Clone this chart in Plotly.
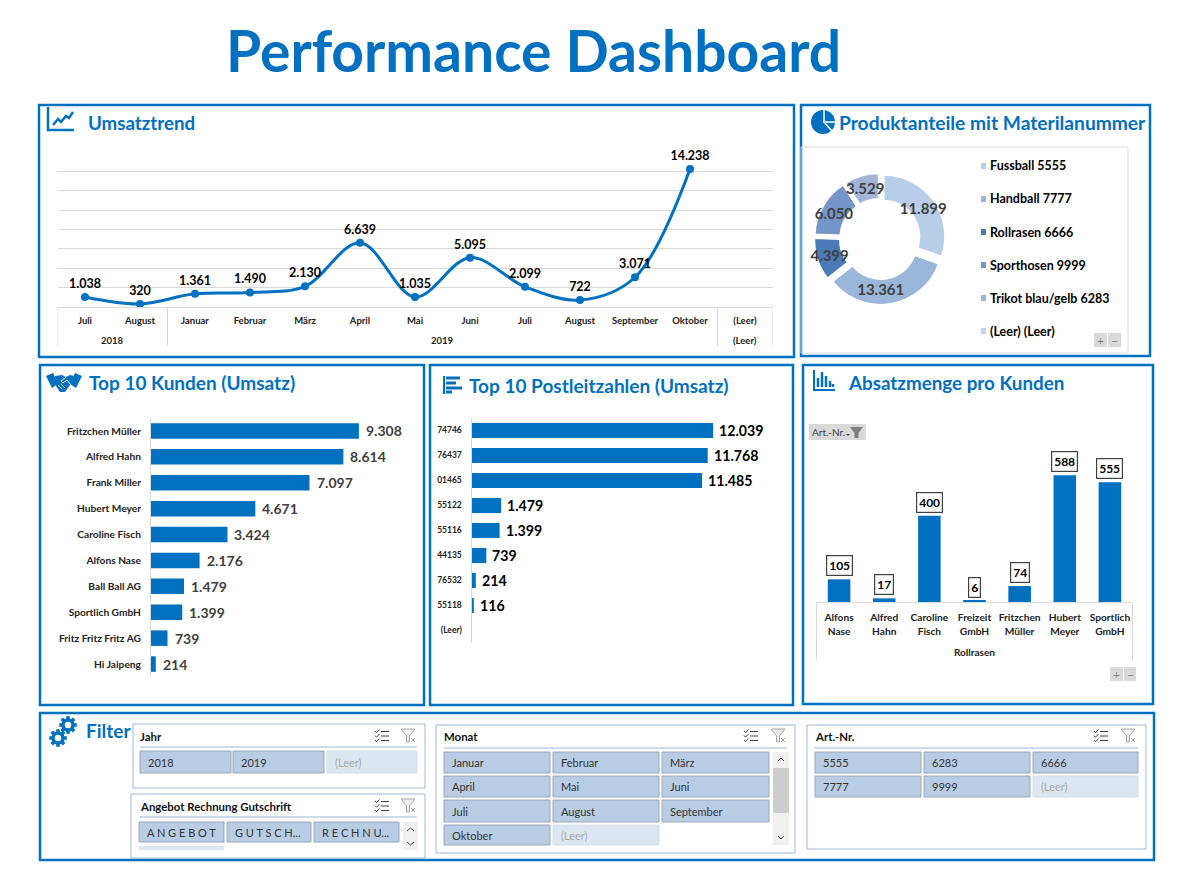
import math
import plotly.graph_objects as go

BLUE = "#0070C0"
FONT = "Lato"

# ---------- data ----------
trend_years = ["2018", "2018", "2019", "2019", "2019", "2019", "2019", "2019", "2019", "2019", "2019", "2019", "(Leer)"]
trend_months = ["Juli", "August", "Januar", "Februar", "März", "April", "Mai", "Juni", "Juli", "August", "September", "Oktober", "(Leer)"]
trend_values = [1038, 320, 1361, 1490, 2130, 6639, 1035, 5095, 2099, 722, 3071, 14238, None]

product_labels = ["Fussball 5555", "Handball 7777", "Rollrasen 6666", "Sporthosen 9999", "Trikot blau/gelb 6283", "(Leer) (Leer)"]
product_values = [11899, 13361, 4399, 6050, 3529, 0]
product_colors = ["#B8CDE7", "#9AB6DA", "#4A7AB8", "#7495C8", "#A0B5D8", "#C5D3E8"]

customer_names = ["Fritzchen Müller", "Alfred Hahn", "Frank Miller", "Hubert Meyer", "Caroline Fisch",
                  "Alfons Nase", "Ball Ball AG", "Sportlich GmbH", "Fritz Fritz Fritz AG", "Hi Jaipeng"]
customer_values = [9308, 8614, 7097, 4671, 3424, 2176, 1479, 1399, 739, 214]

postcodes = ["74746", "76437", "01465", "55122", "55116", "44135", "76532", "55118", "(Leer)"]
postcode_values = [12039, 11768, 11485, 1479, 1399, 739, 214, 116, None]

qty_customers = ["Alfons<br>Nase", "Alfred<br>Hahn", "Caroline<br>Fisch", "Freizeit<br>GmbH", "Fritzchen<br>Müller", "Hubert<br>Meyer", "Sportlich<br>GmbH"]
qty_group = "Rollrasen"
qty_values = [105, 17, 400, 6, 74, 588, 555]

slicer_jahr = ["2018", "2019", "(Leer)"]
slicer_angebot = ["A N G E B O T", "G U T S C H...", "R E C H N U..."]
slicer_monat = ["Januar", "Februar", "März", "April", "Mai", "Juni", "Juli", "August", "September", "Oktober", "(Leer)"]
slicer_art = ["5555", "6283", "6666", "7777", "9999", "(Leer)"]


def de(v):
    return f"{v:,}".replace(",", ".")


W, H = 1200, 881
shapes, annos = [], []


def X(p):
    return p / W


def Y(p):
    return 1 - p / H


def rect(x0, y0, x1, y1, fill="rgba(0,0,0,0)", line=None, lw=1, layer="below"):
    shapes.append(dict(type="rect", xref="paper", yref="paper", x0=X(x0), x1=X(x1), y0=Y(y0), y1=Y(y1),
                       fillcolor=fill, line=dict(color=line or "rgba(0,0,0,0)", width=lw if line else 0), layer=layer))


def seg(x0, y0, x1, y1, color="#D9D9D9", lw=1, layer="below"):
    shapes.append(dict(type="line", xref="paper", yref="paper", x0=X(x0), x1=X(x1), y0=Y(y0), y1=Y(y1),
                       line=dict(color=color, width=lw), layer=layer))


def circle(cx, cy, r, fill=BLUE, line=None, lw=0, layer="above"):
    shapes.append(dict(type="circle", xref="paper", yref="paper", x0=X(cx - r), x1=X(cx + r), y0=Y(cy - r), y1=Y(cy + r),
                       fillcolor=fill, line=dict(color=line or "rgba(0,0,0,0)", width=lw), layer=layer))


def poly(pts, fill=None, line=None, lw=1, layer="above"):
    d = "M " + " L ".join(f"{X(a):.5f},{Y(b):.5f}" for a, b in pts)
    if fill:
        d += " Z"
    shapes.append(dict(type="path", xref="paper", yref="paper", path=d, fillcolor=fill or "rgba(0,0,0,0)",
                       line=dict(color=line or "rgba(0,0,0,0)", width=lw if line else 0), layer=layer))


def text(x, y, s, size=12, color="#000000", anchor="left", bold=False, family=FONT):
    annos.append(dict(xref="paper", yref="paper", x=X(x), y=Y(y), text=f"<b>{s}</b>" if bold else s, showarrow=False,
                      xanchor=anchor, yanchor="middle", font=dict(size=size, color=color, family=family),
                      borderpad=0, borderwidth=0))


# ---------- panels ----------
for x0, y0, x1, y1 in [(39, 105, 794, 357), (801, 105, 1150, 356), (40, 365, 424, 705),
                       (430, 365, 793, 705), (803, 365, 1153, 704), (40, 713, 1154, 860)]:
    rect(x0, y0, x1, y1, line=BLUE, lw=2.5)

text(533, 50, "Performance Dashboard", 57, BLUE, "center", True)
text(88, 123, "Umsatztrend", 18.7, BLUE, bold=True)
text(839, 123, "Produktanteile mit Materilanummer", 19.2, BLUE, bold=True)
text(89, 383, "Top 10 Kunden (Umsatz)", 19, BLUE, bold=True)
text(469, 385, "Top 10 Postleitzahlen (Umsatz)", 19, BLUE, bold=True)
text(848, 383, "Absatzmenge pro Kunden", 18.8, BLUE, bold=True)
text(86, 730, "Filter", 19, BLUE, bold=True)

# ---------- icons ----------
poly([(48, 107), (48, 130), (74, 130)], line=BLUE, lw=2.5)
poly([(53, 125), (58, 119), (61, 122), (66, 116), (69, 118), (73, 112)], line=BLUE, lw=2.5)
circle(823, 122, 12)
poly([(824, 110), (824, 122), (835, 122)], line="#FFFFFF", lw=1.5)
poly([(824, 122), (832, 131)], line="#FFFFFF", lw=1.5)
# handshake
poly([(46, 376), (53, 373), (58, 384), (52, 388)], fill=BLUE)
poly([(82, 376), (75, 373), (70, 384), (76, 388)], fill=BLUE)
poly([(55, 376), (62, 375), (66, 377), (70, 375), (74, 376), (70, 385), (65, 392), (60, 392), (56, 386)], fill=BLUE)
poly([(66, 377), (61, 381), (63, 383), (67, 380), (71, 385)], line="#FFFFFF", lw=1)
poly([(58, 385), (62, 389)], line="#FFFFFF", lw=0.8)
poly([(61, 384), (65, 388)], line="#FFFFFF", lw=0.8)
# list icon
seg(444, 376, 444, 394, BLUE, 2, "above")
for yy, xe in [(378, 460), (383, 456), (388, 462), (392, 452)]:
    seg(446, yy, xe, yy, BLUE, 3, "above")
# bar icon
poly([(814, 370), (814, 390), (835, 390)], line=BLUE, lw=2)
for xx, yt in [(818, 378), (822, 372), (826, 376), (830, 381), (833, 384)]:
    seg(xx, yt, xx, 387, BLUE, 2.5, "above")
# gears
for cx, cy in [(68, 725), (58, 738)]:
    for k in range(8):
        a = k * math.pi / 4
        seg(cx + 5 * math.cos(a), cy + 5 * math.sin(a), cx + 8.8 * math.cos(a), cy + 8.8 * math.sin(a), BLUE, 3.5, "above")
    circle(cx, cy, 5, fill="#FFFFFF", line=BLUE, lw=3.5)

# ---------- trend ----------
traces = []
trend_x = list(range(len(trend_months)))
traces.append(go.Scatter(x=trend_x, y=trend_values, mode="lines+markers+text",
                         text=[de(v) if v is not None else "" for v in trend_values], textposition="top center",
                         textfont=dict(size=12.5, color="#000000", family=FONT, weight="bold"),
                         line=dict(color=BLUE, width=3, shape="spline", smoothing=1.0),
                         marker=dict(size=8, color=BLUE), xaxis="x", yaxis="y", cliponaxis=False))
# year row below the months, positioned from the category indices
year_groups = []
for i, yr in enumerate(trend_years):
    if year_groups and year_groups[-1][0] == yr:
        year_groups[-1][2] = i
    else:
        year_groups.append([yr, i, i])
for yr, a, b in year_groups:
    annos.append(dict(xref="x", yref="paper", x=(a + b) / 2, y=Y(340), text=yr, showarrow=False, yanchor="middle",
                      font=dict(size=9.5, color="#222222", family=FONT, weight="bold")))
    shapes.append(dict(type="line", xref="x", yref="paper", x0=a - 0.5, x1=a - 0.5, y0=Y(307), y1=Y(346),
                       line=dict(color="#D9D9D9", width=1), layer="below"))
shapes.append(dict(type="line", xref="x", yref="paper", x0=len(trend_x) - 0.5, x1=len(trend_x) - 0.5, y0=Y(307), y1=Y(346),
                   line=dict(color="#D9D9D9", width=1), layer="below"))

# ---------- donut ----------
rect(801, 147, 1128, 353, line="#D9D9D9", lw=1)
cx, cy, R = 880, 239, 66
traces.append(go.Pie(labels=product_labels, values=product_values, hole=0.58, sort=False, direction="clockwise", rotation=0,
                     pull=0.07, marker=dict(colors=product_colors,
                                            line=dict(width=[2 if v else 0 for v in product_values], color="#FFFFFF")),
                     texttemplate="%{customdata}", customdata=[de(v) if v else "" for v in product_values],
                     textposition="inside", insidetextorientation="horizontal",
                     textfont=dict(size=15, color="#404040", family=FONT, weight="bold"),
                     domain=dict(x=[X(cx - R), X(cx + R)], y=[Y(cy + R), Y(cy - R)]), showlegend=False, hoverinfo="label+value"))
for i, (lab, col) in enumerate(zip(product_labels, product_colors)):
    yy = 166 + 33 * i
    rect(981, yy - 3, 986, yy + 3, fill=col)
    text(990, yy, lab, 12.5, "#000000", bold=True)
for bx, by in [(1094, 333)]:
    rect(bx, by, bx + 13, by + 14, fill="#D9D9D9")
    rect(bx + 14, by, bx + 27, by + 14, fill="#D9D9D9")
    text(bx + 6.5, by + 7, "+", 12, "#808080", "center")
    text(bx + 20.5, by + 7, "−", 12, "#808080", "center")

# ---------- customers ----------
traces.append(go.Bar(y=customer_names, x=customer_values, orientation="h", marker=dict(color=BLUE, line=dict(width=0)),
                     xaxis="x3", yaxis="y3", width=0.6))
for i, v in enumerate(customer_values):
    annos.append(dict(xref="x3", yref="y3", x=v, y=i, text=f"<b>{de(v)}</b>", showarrow=False, xanchor="left", xshift=5,
                      font=dict(size=14, color="#404040", family=FONT)))

# ---------- postcodes ----------
traces.append(go.Bar(y=postcodes, x=postcode_values, orientation="h", marker=dict(color=BLUE, line=dict(width=0)),
                     xaxis="x4", yaxis="y4", width=0.6))
for i, v in enumerate(postcode_values):
    if v is not None:
        annos.append(dict(xref="x4", yref="y4", x=v, y=i, text=f"<b>{de(v)}</b>", showarrow=False, xanchor="left", xshift=4,
                          font=dict(size=14.2, color="#000000", family=FONT)))

# ---------- quantities ----------
traces.append(go.Bar(x=qty_customers, y=qty_values, marker=dict(color=BLUE, line=dict(width=0)),
                     xaxis="x5", yaxis="y5", width=0.5, cliponaxis=False))
for i, v in enumerate(qty_values):
    annos.append(dict(xref="x5", yref="y5", x=i, y=v, text=f"<b>{v}</b>", showarrow=False, yanchor="bottom", yshift=3,
                      font=dict(size=12, color="#000000", family=FONT), bgcolor="#FFFFFF", bordercolor="#404040",
                      borderwidth=1.2, borderpad=2))
annos.append(dict(xref="x5", yref="paper", x=(len(qty_values) - 1) / 2, y=Y(652), text=qty_group, showarrow=False, yanchor="middle",
                  font=dict(size=10, color="#222222", family=FONT, weight="bold")))
for edge in (-0.5, len(qty_values) - 0.5):
    shapes.append(dict(type="line", xref="x5", yref="paper", x0=edge, x1=edge, y0=Y(602), y1=Y(660),
                       line=dict(color="#D9D9D9", width=1), layer="below"))
rect(809, 424, 866, 440, fill="#D9D9D9")
text(812, 432, "Art.-Nr.", 10, "#404040")
poly([(850, 427), (863, 427), (858.5, 433), (858.5, 438), (854.5, 438), (854.5, 433)], fill="#7F7F7F")
poly([(846, 434), (850, 434), (848, 436)], fill="#404040")
rect(1110, 667, 1123, 681, fill="#D9D9D9")
rect(1124, 667, 1136, 681, fill="#D9D9D9")
text(1116.5, 674, "+", 12, "#808080", "center")
text(1130, 674, "−", 12, "#808080", "center")


# ---------- slicers ----------
def slicer_icons(x1, x2, y):
    for k in range(3):
        yy = y - 4.5 + k * 4.5
        poly([(x1, yy - 0.5), (x1 + 1.5, yy + 1.2), (x1 + 4.5, yy - 2)], line="#404040", lw=1)
        seg(x1 + 6, yy, x1 + 14, yy, "#404040", 1, "above")
    poly([(x2 - 7, y - 7), (x2 + 7, y - 7), (x2 + 1.5, y), (x2 + 1.5, y + 6), (x2 - 1.5, y + 6), (x2 - 1.5, y)],
         fill="#EDEDED", line="#A6A6A6", lw=1)
    seg(x2 + 3, y + 2, x2 + 7, y + 6, "#A6A6A6", 1, "above")
    seg(x2 + 7, y + 2, x2 + 3, y + 6, "#A6A6A6", 1, "above")


def button(x0, y0, x1, y1, label, disabled=False, size=11, tx=8):
    if disabled:
        rect(x0, y0, x1, y1, fill="#DCE6F1", line="#D5DEE9", lw=1)
    else:
        rect(x0, y0, x1, y1, fill="#B8CCE4", line="#98A8BC", lw=1)
    text(x0 + tx, (y0 + y1) / 2, label, size, "#A6A6A6" if disabled else "#333333")


SL = "#9DB7DB"
# Jahr
rect(133, 724, 425, 788, line=SL, lw=1)
text(140, 736, "Jahr", 11.4, "#111111", bold=True)
seg(140, 747, 417, 747, SL, 1)
slicer_icons(375, 408, 736)
for lab, (a, b) in zip(slicer_jahr, [(140, 231), (233, 324), (327, 417)]):
    button(a, 751, b, 773, lab, lab == "(Leer)")

# Angebot
rect(131, 794, 425, 858, line=SL, lw=1)
text(140, 806, "Angebot Rechnung Gutschrift", 11.4, "#111111", bold=True)
seg(140, 817, 417, 817, SL, 1)
slicer_icons(375, 408, 806)
for lab, (a, b) in zip(slicer_angebot, [(139, 224), (227, 311), (314, 399)]):
    button(a, 822, b, 842, lab, False, 11, 8)
rect(139, 846, 224, 850, fill="#DCE6F1")
rect(403, 822, 418, 850, fill="#F0F0F0")
poly([(407, 831), (410.5, 828), (414, 831)], line="#404040", lw=1)
poly([(407, 842), (410.5, 845), (414, 842)], line="#404040", lw=1)

# Monat
rect(436, 725, 795, 853, line=SL, lw=1)
text(444, 736, "Monat", 11.4, "#111111", bold=True)
seg(444, 748, 787, 748, SL, 1)
slicer_icons(744, 778, 736)
cols = [(444, 550), (553, 659), (662, 769)]
rows = [(752, 773), (776, 797), (800, 822), (825, 845)]
for i, lab in enumerate(slicer_monat):
    a, b = cols[i % 3]
    c, d = rows[i // 3]
    button(a, c, b, d, lab, lab == "(Leer)")
rect(773, 752, 789, 845, fill="#F0F0F0")
rect(773, 768, 789, 813, fill="#CDCDCD")
poly([(778, 761), (781, 758), (784, 761)], line="#404040", lw=1)
poly([(778, 836), (781, 839), (784, 836)], line="#404040", lw=1)

# Art
rect(807, 725, 1146, 849, line=SL, lw=1)
text(815, 736, "Art.-Nr.", 11.4, "#111111", bold=True)
seg(815, 748, 1138, 748, SL, 1)
slicer_icons(1094, 1128, 736)
cols = [(815, 921), (924, 1030), (1033, 1138)]
rows = [(752, 773), (776, 797)]
for i, lab in enumerate(slicer_art):
    a, b = cols[i % 3]
    c, d = rows[i // 3]
    button(a, c, b, d, lab, lab == "(Leer)")

# ---------- layout ----------
def dom(a, b):
    return [X(a), X(b)]


def domy(top, bottom):
    return [Y(bottom), Y(top)]


layout = dict(
    width=W, height=H, margin=dict(l=0, r=0, t=0, b=0), paper_bgcolor="#FFFFFF", plot_bgcolor="rgba(0,0,0,0)",
    showlegend=False, shapes=shapes, annotations=annos, font=dict(family=FONT), autosize=False,
    uniformtext=dict(mode="show", minsize=15),
    xaxis=dict(domain=dom(57.5, 772.5), range=[-0.5, 12.5], tickmode="array", tickvals=trend_x, ticktext=trend_months,
               showgrid=False, zeroline=False, showline=True, linecolor="#D9D9D9", ticks="", tickangle=0, ticklabelstandoff=5,
               tickfont=dict(size=9.5, color="#222222", family=FONT, weight="bold"), fixedrange=True),
    yaxis=dict(domain=domy(152, 307), range=[0, 16000], dtick=2000, showticklabels=False, showgrid=True,
               gridcolor="#D9D9D9", gridwidth=1.2, zeroline=False, showline=False, ticks="", fixedrange=True),
    xaxis3=dict(domain=dom(151, 419), range=[0, 12000], visible=False, anchor="y3"),
    yaxis3=dict(domain=domy(418, 677), type="category", categoryorder="array", categoryarray=customer_names,
                range=[len(customer_names) - 0.5, -0.5], anchor="x3", showline=True, linecolor="#D9D9D9",
                ticks="", ticklabelstandoff=7, tickfont=dict(size=10.2, color="#222222", family=FONT, weight="bold"), showgrid=False),
    xaxis4=dict(domain=dom(471.5, 752.5), range=[0, 14000], visible=False, anchor="y4"),
    yaxis4=dict(domain=domy(418, 643), type="category", categoryorder="array", categoryarray=postcodes,
                range=[len(postcodes) - 0.5, -0.5], anchor="x4", showline=True, linecolor="#D9D9D9",
                ticks="", ticklabelstandoff=7, tickfont=dict(size=8.5, color="#222222", family=FONT, weight="bold"), showgrid=False),
    xaxis5=dict(domain=dom(816, 1133), type="category", anchor="y5", showline=True, linecolor="#D9D9D9", ticks="", tickangle=0,
                ticklabelstandoff=6, tickfont=dict(size=10.2, color="#222222", family=FONT, weight="bold"), showgrid=False, zeroline=False),
    yaxis5=dict(domain=domy(451, 602), range=[0, 700], visible=False, anchor="x5"),
)

fig = go.Figure(data=traces, layout=layout)
fig.write_html("out.html", post_script="document.body.style.margin='0';", config=dict(displayModeBar=False))
